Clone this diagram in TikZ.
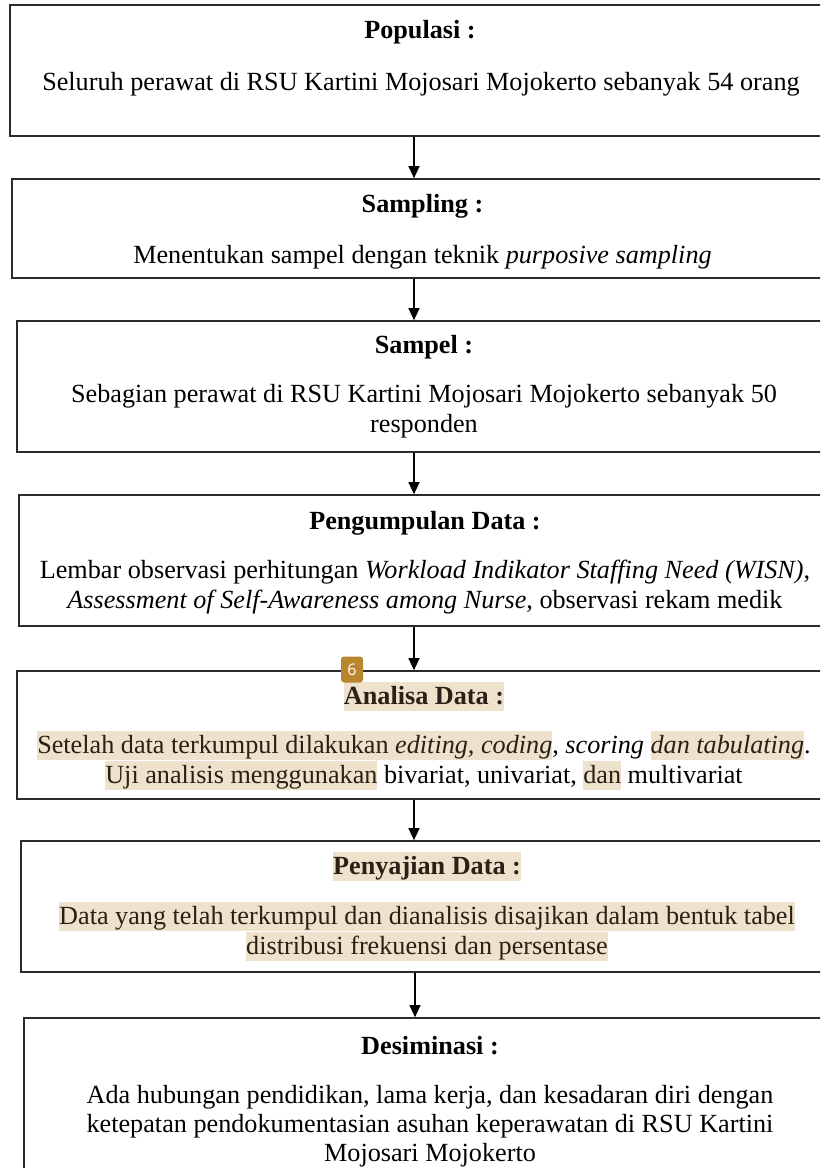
\documentclass[tikz,border=0pt]{standalone}
\usepackage{fontspec}
\setmainfont{Liberation Serif}
\newfontfamily\badgefont{Open Sans}
\usetikzlibrary{arrows.meta}
\definecolor{hlc}{HTML}{EEE2CC}
\definecolor{hltext}{HTML}{2A2015}
\definecolor{badgec}{HTML}{B8862E}
\definecolor{linec}{HTML}{2B2B2B}
\newcommand{\hlx}[1]{{\setlength{\fboxsep}{0pt}\colorbox{hlc}{\rule[-7pt]{0pt}{29pt}\color{hltext}#1}}}
\tikzset{
  box/.style={draw=linec, line width=1.7pt, rectangle, inner sep=0pt},
  txt/.style={anchor=base, inner sep=0pt, outer sep=0pt, font=\fontsize{26.2}{30}\selectfont},
  ttl/.style={txt, font=\fontsize{26.2}{30}\selectfont\bfseries},
  arr/.style={draw=black, line width=1.3pt, -{Triangle[length=12pt,width=11pt]}},
  badge/.style={fill=badgec, rounded corners=3pt, minimum width=22pt, minimum height=26pt, inner sep=0pt, text=white, font=\badgefont\fontsize{16}{16}\selectfont}
}
\begin{document}
\begin{tikzpicture}[x=1pt,y=-1pt]
\useasboundingbox (0,0) rectangle (820,1168);
\clip (0,0) rectangle (820,1168);
\fill[white] (0,0) rectangle (820,1168);

% boxes
\node[box, minimum width=820pt, minimum height=131pt] (b1) at (420,70.5) {};
\node[box, minimum width=821pt, minimum height=99pt] (b2) at (422.5,228.5) {};
\node[box, minimum width=814pt, minimum height=131pt] (b3) at (424,386.5) {};
\node[box, minimum width=812pt, minimum height=131pt] (b4) at (425,560.5) {};
\node[box, minimum width=814pt, minimum height=128pt] (b5) at (424,735) {};
\node[box, minimum width=812pt, minimum height=131pt] (b6) at (427,906.5) {};
\node[box, minimum width=812pt, minimum height=170pt] (b7) at (430,1103) {};

% arrows
\coordinate (ax) at (414,0);
\coordinate (ax2) at (415,0);
\draw[arr] (b1.south -| ax) -- (b2.north -| ax);
\draw[arr] (b2.south -| ax) -- (b3.north -| ax);
\draw[arr] (b3.south -| ax) -- (b4.north -| ax);
\draw[arr] (b4.south -| ax) -- (b5.north -| ax);
\draw[arr] (b5.south -| ax) -- (b6.north -| ax);
\draw[arr] (b6.south -| ax2) -- (b7.north -| ax2);

% box 1
\node[ttl] (t1) at (420,38.5) {Populasi :};
\node[txt] (t1a) at (421,90.5) {Seluruh perawat di RSU Kartini Mojosari Mojokerto sebanyak 54 orang};

% box 2
\node[ttl] (t2) at (422.5,212.5) {Sampling :};
\node[txt] (t2a) at (422.5,263.5) {Menentukan sampel dengan teknik \textit{purposive sampling}};

% box 3
\node[ttl] (t3) at (424,353.5) {Sampel :};
\node[txt] (t3a) at (424,402.5) {Sebagian perawat di RSU Kartini Mojosari Mojokerto sebanyak 50};
\node[txt] (t3b) at (424,432.5) {responden};

% box 4
\node[ttl] (t4) at (425,529.5) {Pengumpulan Data :};
\node[txt] (t4a) at (425,578.5) {Lembar observasi perhitungan \textit{Workload Indikator Staffing Need (WISN)},};
\node[txt] (t4b) at (425,608.5) {\textit{Assessment of Self-Awareness among Nurse}, observasi rekam medik};

% box 5
\node[ttl] (t5) at (424,704) {\hlx{Analisa Data :}};
\node[txt] (t5a) at (424,753) {\hlx{Setelah data terkumpul dilakukan \textit{editing, coding}}, \textit{scoring} \hlx{\textit{dan tabulating}}.};
\node[txt] (t5b) at (424,783) {\hlx{Uji analisis menggunakan} bivariat, univariat, \hlx{dan} multivariat};

% box 6
\node[ttl] (t6) at (427,874) {\hlx{Penyajian Data :}};
\node[txt] (t6a) at (427,924) {\hlx{Data yang telah terkumpul dan dianalisis disajikan dalam bentuk tabel}};
\node[txt] (t6b) at (427,954) {\hlx{distribusi frekuensi dan persentase}};

% box 7
\node[ttl] (t7) at (430,1054) {Desiminasi :};
\node[txt] (t7a) at (430,1103) {Ada hubungan pendidikan, lama kerja, dan kesadaran diri dengan};
\node[txt] (t7b) at (430,1132) {ketepatan pendokumentasian asuhan keperawatan di RSU Kartini};
\node[txt] (t7c) at (430,1161) {Mojosari Mojokerto};

% badge
\node[badge] (bdg) at (352,669.5) {6};
\end{tikzpicture}
\end{document}
